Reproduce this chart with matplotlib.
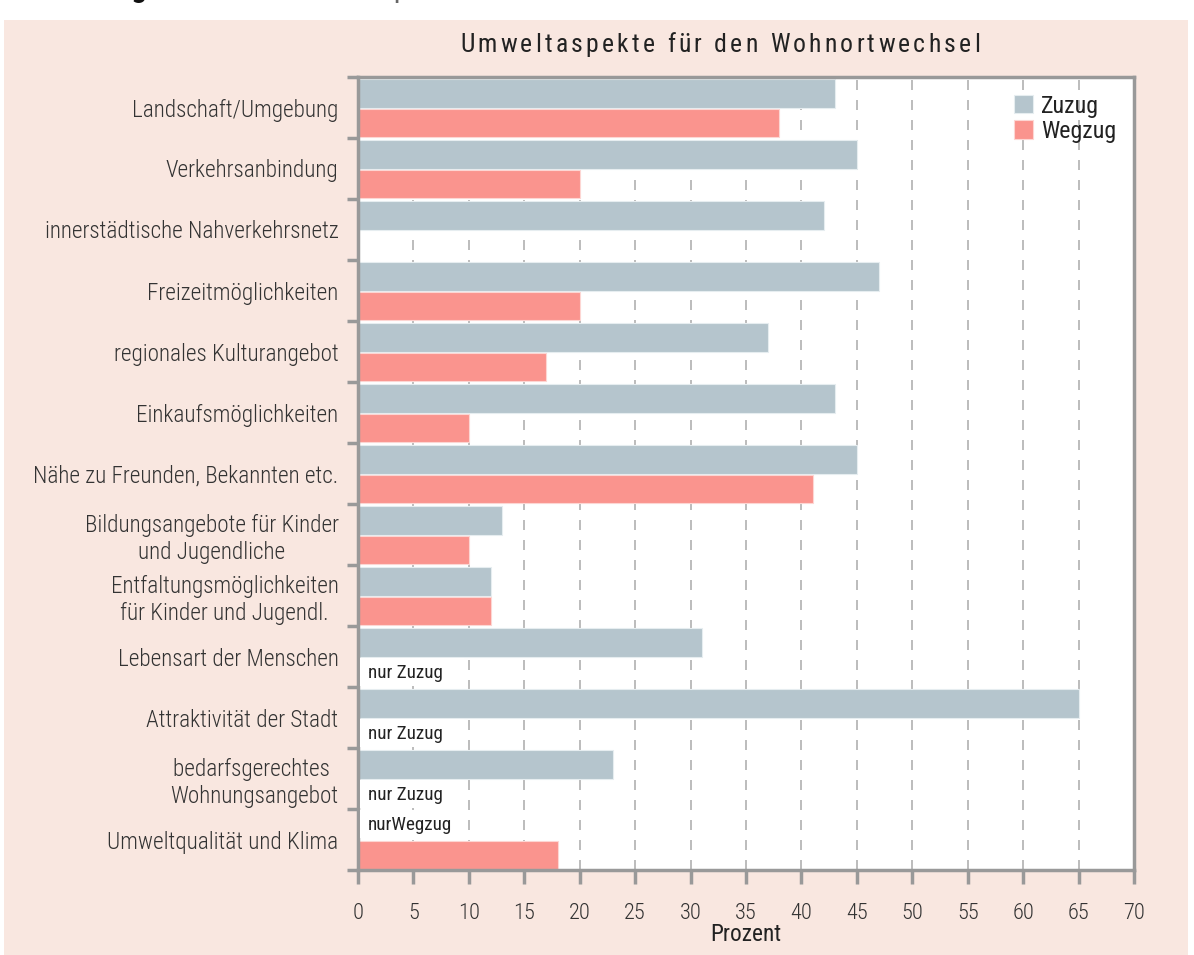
import matplotlib
matplotlib.use("Agg")
import matplotlib.pyplot as plt
import matplotlib.font_manager as fm
from matplotlib.patches import Rectangle
import numpy as np

categories = [
    "Landschaft/Umgebung",
    "Verkehrsanbindung",
    "innerstädtische Nahverkehrsnetz",
    "Freizeitmöglichkeiten",
    "regionales Kulturangebot",
    "Einkaufsmöglichkeiten",
    "Nähe zu Freunden, Bekannten etc.",
    "Bildungsangebote für Kinder\nund Jugendliche",
    "Entfaltungsmöglichkeiten\nfür Kinder und Jugendl.",
    "Lebensart der Menschen",
    "Attraktivität der Stadt",
    "bedarfsgerechtes \nWohnungsangebot",
    "Umweltqualität und Klima",
]
zuzug = [43, 45, 42, 47, 37, 43, 45, 13, 12, 31, 65, 23, np.nan]
wegzug = [38, 20, np.nan, 20, 17, 10, 41, 10, 12, np.nan, np.nan, np.nan, 18]
series_names = ["Zuzug", "Wegzug"]
xticks = list(range(0, 75, 5))
only_zuzug = [9, 10, 11]
only_wegzug = [12]
chart_title = "Umweltaspekte für den Wohnortwechsel"

# ---- choose a condensed font if one is installed
names = {f.name for f in fm.fontManager.ttflist}
stretch_cond = {}
for f in fm.fontManager.ttflist:
    st = f.stretch
    if isinstance(st, str) and "condensed" in st:
        stretch_cond.setdefault(f.name, st)
    elif isinstance(st, int) and st < 500:
        stretch_cond.setdefault(f.name, st)
family, stretch = "DejaVu Sans", "normal"
for cand in ["Liberation Sans Narrow", "Roboto Condensed", "Open Sans Condensed",
             "Noto Sans Condensed", "DejaVu Sans Condensed"]:
    if cand in names:
        family = cand
        break
else:
    for cand in ["Noto Sans", "Open Sans", "Roboto", "DejaVu Sans"]:
        if cand in stretch_cond:
            family, stretch = cand, stretch_cond[cand]
            break
    else:
        for cand in ["Roboto", "Lato"]:
            if cand in names:
                family = cand
                break

FONT = [family, "DejaVu Sans"]
plt.rcParams["font.family"] = FONT
plt.rcParams["font.stretch"] = stretch

W, H = 1194, 955
fig = plt.figure(figsize=(W / 100, H / 100), dpi=100)
renderer = fig.canvas.get_renderer()


def width_px(txt, size, **kw):
    t = fig.text(0, 0, txt, fontsize=size, **kw)
    w = t.get_window_extent(renderer).width
    t.remove()
    return w


def fit(txt, target_px, **kw):
    return 10 * target_px / width_px(txt, 10, **kw)


LBL = fit("Umweltqualität und Klima", 231, fontweight="light")
TICK = fit("70", 22)
TICK = min(max(TICK, LBL * 0.9), LBL * 1.1)
LEG = fit("Wegzug", 75)
NUR = fit("nur Zuzug", 75)
XL = fit("Prozent", 71)

TXT = "#333333"
C_Z = "#b5c5cd"
C_W = "#fa948e"
SPINE = "#999999"

fig.patch.set_facecolor("white")
fig.patches.append(Rectangle((4 / W, 0), (1188 - 4) / W, 1 - 20 / H,
                             transform=fig.transFigure, facecolor="#f9e7e0",
                             edgecolor="none", zorder=-10))
# header line, mostly cut off at the top edge
HDR = fit("Abbildung 13: Teilstehende Aspekte des Wechsels", 600)
h1 = fig.text(22 / W, 1 + 11 / H, "Abbildung 13: ", fontsize=HDR, color="#111111",
              va="center", ha="left", fontweight="bold", zorder=-5)
x1 = 22 + h1.get_window_extent(renderer).width
fig.text(x1 / W, 1 + 11 / H, "Teilstehende Aspekte des Wechsels", fontsize=HDR,
         color="#666666", va="center", ha="left", zorder=-5)

ax = fig.add_axes([358 / W, 1 - 870 / H, (1134 - 358) / W, (870 - 77) / H])
ax.set_facecolor("white")

y = np.arange(len(categories))
ax.barh(y - 0.23, zuzug, height=0.48, color=C_Z, edgecolor="#e6edf0",
        linewidth=0.8, label=series_names[0], zorder=2)
ax.barh(y + 0.255, wegzug, height=0.47, color=C_W, edgecolor="#fdd6d3",
        linewidth=0.8, label=series_names[1], zorder=2)

ax.set_xlim(0, 70)
ax.set_ylim(len(categories) - 0.5, -0.5)

for i in only_zuzug:
    ax.add_patch(Rectangle((0.2, i + 0.02), 9.4, 0.47, facecolor="white",
                           edgecolor="none", zorder=3))
    ax.text(0.9, i + 0.27, "nur Zuzug", fontsize=NUR, color="#222222",
            va="center", ha="left", zorder=4)
for i in only_wegzug:
    ax.add_patch(Rectangle((0.2, i - 0.49), 9.4, 0.47, facecolor="white",
                           edgecolor="none", zorder=3))
    ax.text(0.9, i - 0.24, "nurWegzug", fontsize=NUR, color="#222222",
            va="center", ha="left", zorder=4)

# grid
for xv in xticks[1:-1]:
    ax.axvline(xv, color="#b0b0b0", linestyle=(0, (6, 6)), linewidth=1.2, zorder=1)

# y ticks: marks at boundaries, labels at centers
ax.set_yticks(np.arange(-0.5, len(categories)), labels=[])
ax.set_yticks(y, labels=categories, minor=True)
ax.tick_params(axis="y", which="major", length=8, width=2.5, color=SPINE, direction="out")
ax.tick_params(axis="y", which="minor", length=0, pad=14, labelsize=LBL, labelcolor=TXT)
for lab in ax.get_yticklabels(minor=True):
    lab.set_multialignment("center")
    lab.set_fontweight("light")

ax.set_xticks(xticks)
ax.tick_params(axis="x", length=10, width=2.5, color=SPINE, direction="out",
               pad=14, labelsize=TICK, labelcolor=TXT)
for lab in ax.get_xticklabels():
    lab.set_fontweight("light")
ax.set_xlabel("Prozent", fontsize=XL, color="#222222", labelpad=-1)

for s in ax.spines.values():
    s.set_color(SPINE)
    s.set_linewidth(2.5)

# title with letter tracking, drawn glyph by glyph
TS = 18.5
tkw = dict(fontweight="normal")
space_w = width_px("n n", TS, **tkw) - width_px("nn", TS, **tkw)
cw = [width_px(c, TS, **tkw) if c != " " else space_w for c in chart_title]
target = 520
track = (target - sum(cw)) / (len(chart_title) - 1)
xpos = 720 - target / 2
for c, w in zip(chart_title, cw):
    if c != " ":
        fig.text(xpos / W, 1 - 52 / H, c, color="#222222", ha="left",
                 va="baseline", fontsize=TS, **tkw)
    xpos += w + track

leg = ax.legend(loc="upper left", bbox_to_anchor=((1004 - 358) / (1134 - 358), 1 - 8 / 793),
                frameon=False, fontsize=LEG, handlelength=0.8, handleheight=0.8,
                handletextpad=0.35, labelspacing=0.1, borderaxespad=0)
for t in leg.get_texts():
    t.set_color("#222222")

fig.savefig("out.png", dpi=100, facecolor=fig.get_facecolor())
